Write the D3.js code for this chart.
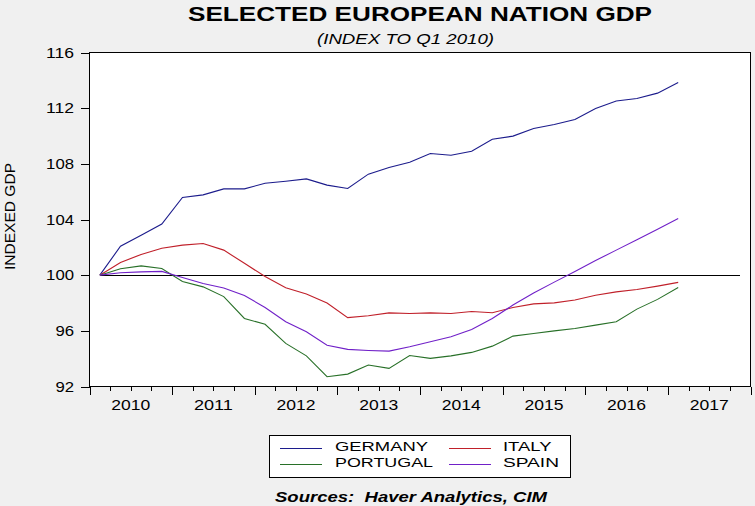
<!DOCTYPE html>
<html>
<head>
    <title>Selected European Nation GDP</title>
    <style>
        body, html {
            margin: 0;
            padding: 0;
            width: 100%;
            height: 100%;
            overflow: hidden;
            background: #f0f0f0;
        }
        text {
            font-family: "Liberation Sans", Arial, sans-serif;
            fill: #000;
        }
    </style>
    <script src="https://d3js.org/d3.v7.min.js"></script>
</head>
<body>

<svg id="chart" width="755" height="506"></svg>

<script>
// quarterly index, Q1 2010 = 100
const quarters = [
    '2010Q1', '2010Q2', '2010Q3', '2010Q4',
    '2011Q1', '2011Q2', '2011Q3', '2011Q4',
    '2012Q1', '2012Q2', '2012Q3', '2012Q4',
    '2013Q1', '2013Q2', '2013Q3', '2013Q4',
    '2014Q1', '2014Q2', '2014Q3', '2014Q4',
    '2015Q1', '2015Q2', '2015Q3', '2015Q4',
    '2016Q1', '2016Q2', '2016Q3', '2016Q4',
    '2017Q1'
];
const germany = [100, 102.08, 102.87, 103.67, 105.58, 105.77, 106.2, 106.2,
    106.6, 106.75, 106.92, 106.47, 106.23, 107.26, 107.74, 108.12,
    108.74, 108.62, 108.91, 109.77, 109.99, 110.54, 110.83, 111.19,
    111.98, 112.52, 112.69, 113.08, 113.84];
const italy = [100, 100.91, 101.49, 101.94, 102.16, 102.28, 101.8, 100.85,
    99.9, 99.1, 98.65, 98.0, 96.95, 97.08, 97.29, 97.25,
    97.29, 97.25, 97.39, 97.3, 97.68, 97.94, 98.01, 98.21,
    98.56, 98.8, 98.97, 99.21, 99.48];
const portugal = [100, 100.46, 100.67, 100.48, 99.55, 99.16, 98.46, 96.89,
    96.47, 95.1, 94.2, 92.7, 92.89, 93.54, 93.3, 94.23,
    94.02, 94.2, 94.45, 94.9, 95.62, 95.81, 96.0, 96.17,
    96.41, 96.65, 97.56, 98.26, 99.12];
const spain = [100, 100.17, 100.24, 100.27, 99.83, 99.4, 99.08, 98.54,
    97.68, 96.65, 95.93, 94.97, 94.67, 94.59, 94.54, 94.85,
    95.21, 95.57, 96.1, 96.89, 97.85, 98.72, 99.5, 100.27,
    101.05, 101.8, 102.55, 103.3, 104.07];

const yTicks = [92, 96, 100, 104, 108, 112, 116];
const years = [2010, 2011, 2012, 2013, 2014, 2015, 2016, 2017];

const series = [
    {name: 'GERMANY', values: germany, color: '#1c1c8c'},
    {name: 'ITALY', values: italy, color: '#c0202a'},
    {name: 'PORTUGAL', values: portugal, color: '#287028'},
    {name: 'SPAIN', values: spain, color: '#7020c8'}
];

const svg = d3.select('#chart');

const plotL = 89.5, plotR = 750.5, plotT = 52.5, plotB = 386.5;

const x = d3.scaleLinear().domain([2010, 2018]).range([plotL, plotR]);
const y = d3.scaleLinear().domain([92, 116]).range([plotB, plotT]);

// quarter label -> middle of the quarter as a fractional year
function qTime(q) {
    return +q.slice(0, 4) + (+q.slice(5) - 1) / 4 + 0.125;
}

// plot area
svg.append('rect')
    .attr('x', plotL).attr('y', plotT)
    .attr('width', plotR - plotL).attr('height', plotB - plotT)
    .attr('fill', '#fff')
    .attr('stroke', '#000')
    .attr('stroke-width', 1)
    .attr('shape-rendering', 'crispEdges');

// y axis ticks + labels
const yAxis = svg.append('g');
yAxis.selectAll('line')
    .data(yTicks)
    .enter().append('line')
    .attr('x1', plotL - 9).attr('x2', plotL)
    .attr('y1', d => Math.round(y(d)) + 0.5)
    .attr('y2', d => Math.round(y(d)) + 0.5)
    .attr('stroke', '#000')
    .attr('shape-rendering', 'crispEdges');
yAxis.selectAll('text')
    .data(yTicks)
    .enter().append('text')
    .attr('x', 74)
    .attr('y', d => y(d) + 5)
    .attr('text-anchor', 'end')
    .attr('font-size', 14)
    .attr('textLength', d => String(d).length * 9.3)
    .attr('lengthAdjust', 'spacingAndGlyphs')
    .text(d => d);

// x axis: quarter ticks, longer at year starts
const qTicks = d3.range(0, 33).map(i => 2010 + i / 4);
svg.append('g').selectAll('line')
    .data(qTicks)
    .enter().append('line')
    .attr('x1', d => Math.round(x(d)) + 0.5)
    .attr('x2', d => Math.round(x(d)) + 0.5)
    .attr('y1', plotB)
    .attr('y2', d => plotB + (Number.isInteger(d) ? 8 : 4.5))
    .attr('stroke', '#000')
    .attr('shape-rendering', 'crispEdges');
svg.append('g').selectAll('text')
    .data(years)
    .enter().append('text')
    .attr('x', d => x(d + 0.5) - 19.5)
    .attr('y', 409.5)
    .attr('font-size', 15)
    .attr('textLength', 39)
    .attr('lengthAdjust', 'spacingAndGlyphs')
    .text(d => d);

// base line at 100
svg.append('line')
    .attr('x1', x(2010.125)).attr('x2', x(2017.875))
    .attr('y1', Math.round(y(100)) + 0.5).attr('y2', Math.round(y(100)) + 0.5)
    .attr('stroke', '#000')
    .attr('shape-rendering', 'crispEdges');

const line = d3.line()
    .x((d, i) => x(qTime(quarters[i])))
    .y(d => y(d));

svg.append('g').selectAll('path')
    .data(series)
    .enter().append('path')
    .attr('d', d => line(d.values))
    .attr('fill', 'none')
    .attr('stroke', d => d.color)
    .attr('stroke-width', 1.1);

// titles
svg.append('text')
    .attr('x', 188).attr('y', 21)
    .attr('font-size', 20).attr('font-weight', 'bold')
    .attr('textLength', 464).attr('lengthAdjust', 'spacingAndGlyphs')
    .text('SELECTED EUROPEAN NATION GDP');
svg.append('text')
    .attr('x', 317).attr('y', 43.5)
    .attr('font-size', 14).attr('font-style', 'italic')
    .attr('textLength', 177).attr('lengthAdjust', 'spacingAndGlyphs')
    .text('(INDEX TO Q1 2010)');
svg.append('text')
    .attr('transform', 'translate(15,216.5) rotate(-90)')
    .attr('text-anchor', 'middle')
    .attr('font-size', 14)
    .attr('textLength', 107).attr('lengthAdjust', 'spacingAndGlyphs')
    .text('INDEXED GDP');

// legend
svg.append('rect')
    .attr('x', 269.5).attr('y', 435.5)
    .attr('width', 301).attr('height', 42)
    .attr('fill', '#fff').attr('stroke', '#000')
    .attr('shape-rendering', 'crispEdges');

const legendPos = [
    {lx: 280, tx: 335, ly: 448.5, ty: 451, len: 93},
    {lx: 449, tx: 503, ly: 448.5, ty: 451, len: 48.5},
    {lx: 280, tx: 335, ly: 464.5, ty: 467, len: 98},
    {lx: 449, tx: 503, ly: 464.5, ty: 467, len: 56}
];
const legend = svg.append('g').selectAll('g')
    .data(series)
    .enter().append('g');
legend.append('line')
    .attr('x1', (d, i) => legendPos[i].lx)
    .attr('x2', (d, i) => legendPos[i].lx + 42)
    .attr('y1', (d, i) => legendPos[i].ly)
    .attr('y2', (d, i) => legendPos[i].ly)
    .attr('stroke', d => d.color)
    .attr('shape-rendering', 'crispEdges');
legend.append('text')
    .attr('x', (d, i) => legendPos[i].tx)
    .attr('y', (d, i) => legendPos[i].ty)
    .attr('font-size', 13)
    .attr('textLength', (d, i) => legendPos[i].len)
    .attr('lengthAdjust', 'spacingAndGlyphs')
    .text(d => d.name);

svg.append('text')
    .attr('x', 275).attr('y', 502)
    .attr('font-size', 14).attr('font-weight', 'bold').attr('font-style', 'italic')
    .style('white-space', 'pre')
    .attr('textLength', 272).attr('lengthAdjust', 'spacingAndGlyphs')
    .text('Sources:  Haver Analytics, CIM');
</script>

</body>
</html>
